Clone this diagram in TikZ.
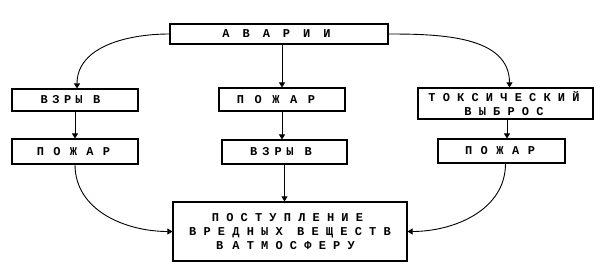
\documentclass[tikz,border=0pt]{standalone}
\usepackage{fontspec}
\setmonofont{Liberation Mono}
\usetikzlibrary{arrows.meta,calc}
\newcommand\gp[1]{\hspace*{#1pt}}
\newcommand\shl[1]{\rule{#1pt}{0pt}}
\begin{document}
\begin{tikzpicture}[x=1pt,y=-1pt,
  box/.style={draw,line width=1.1pt,inner sep=0pt,align=center,
    font=\ttfamily\bfseries\fontsize{12}{14}\selectfont},
  conn/.style={line width=0.9pt,-{Triangle[length=5pt,width=6pt]}}]
\useasboundingbox (0,0) rectangle (600,276);
\node[box,minimum width=218pt,minimum height=20pt] (av) at (279,34)
  {А\gp{13}В\gp{13}А\gp{13}Р\gp{13}И\gp{13}И\shl{5}};
\node[box,minimum width=126pt,minimum height=22pt] (v1) at (75,100)
  {В\gp{4.5}З\gp{4.5}Р\gp{4}Ы\gp{10.5}В\shl{9}};
\node[box,minimum width=126pt,minimum height=23pt] (p2) at (282,99.5)
  {П\gp{10.5}О\gp{10.5}Ж\gp{10.5}А\gp{10.5}Р\shl{12}};
\node[box,minimum width=175pt,minimum height=31pt] (tox) at (505.5,103.5)
  {Т О К С И Ч Е С К И Й\shl{3}\\В Ы Б Р О С\shl{3}};
\node[box,minimum width=126pt,minimum height=25pt] (p1) at (75,151.5)
  {П\gp{9.3}О\gp{9.3}Ж\gp{9.3}А\gp{9.3}Р\shl{3}};
\node[box,minimum width=125pt,minimum height=24pt] (v2) at (284.5,152)
  {В\gp{5}З\gp{5}Р\gp{4.5}Ы\gp{11}В\shl{7}};
\node[box,minimum width=127pt,minimum height=24pt] (p3) at (501.5,151)
  {П\gp{8.5}О\gp{8.5}Ж\gp{8.5}А\gp{8.5}Р\shl{3}};
\node[box,minimum width=234pt,minimum height=59pt] (post) at (290,231.5)
  {П О С Т У П Л Е Н И Е\shl{5}\\В Р Е Д Н Ы Х~~В Е Щ Е С Т В\\В\gp{9}А Т М О С Ф Е Р У\shl{9}};
% straight connectors
\draw[conn] (p2.north |- av.south) -- (p2.north);
\draw[conn] (v1.south) -- (p1.north);
\draw[conn] (p2.south) -- (p2.south |- v2.north);
\draw[conn] ([xshift=1.5pt]tox.south) -- ([xshift=1.5pt]tox.south |- p3.north);
\draw[conn] (v2.south) -- (v2.south |- post.north);
% curved connectors
\draw[conn] (av.west) to[out=180,in=90] ([xshift=2pt]v1.north);
\draw[conn] (av.east) to[out=0,in=90] ([xshift=4pt]tox.north);
\draw[conn] (p1.south) to[out=-90,in=180] (post.west);
\draw[conn] ([xshift=4pt]p3.south) to[out=-90,in=0] (post.east);
\end{tikzpicture}
\end{document}
